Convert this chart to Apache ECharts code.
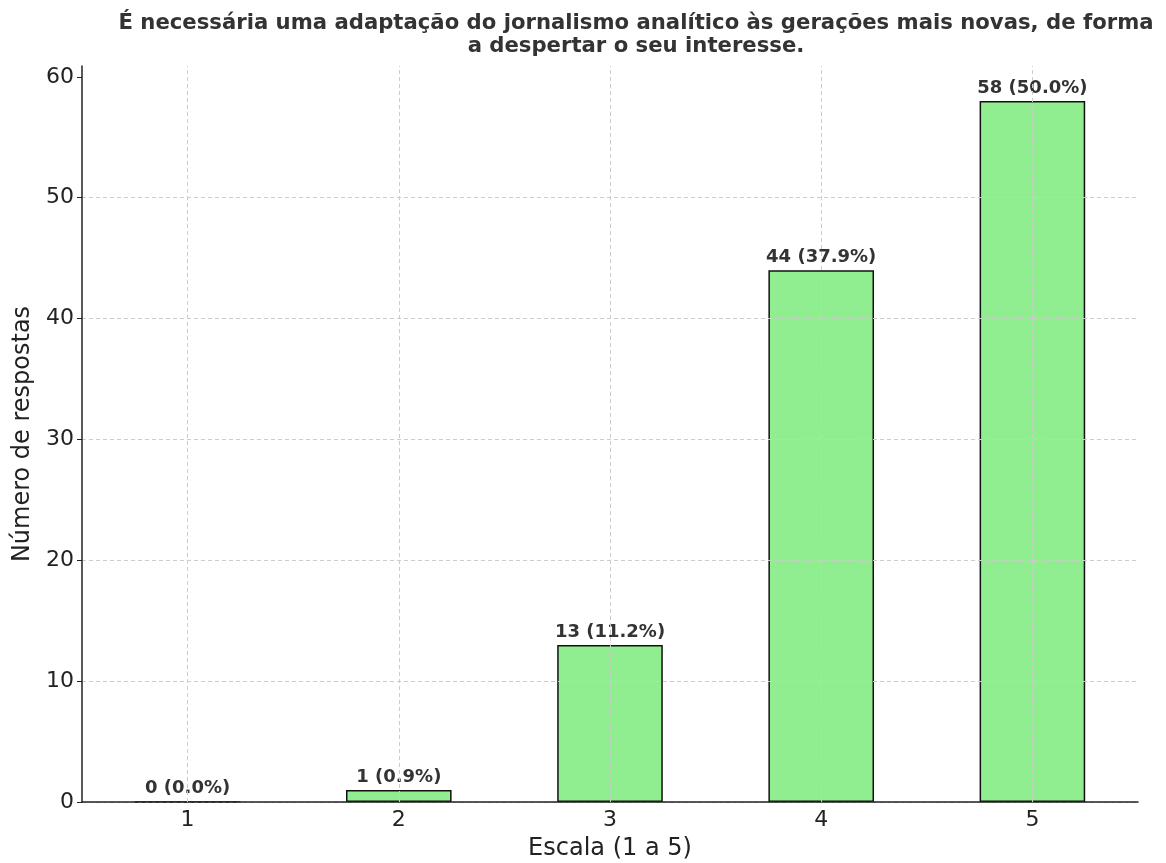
<!DOCTYPE html>
<html>
<head>
<meta charset="utf-8">
<script src="https://cdn.jsdelivr.net/npm/echarts@6/dist/echarts.min.js"></script>
<style>
  html, body { margin: 0; padding: 0; background: #fff; }
  #main { width: 1166px; height: 863px; }
</style>
</head>
<body>
<div id="main"></div>
<script>
var categories = ['1', '2', '3', '4', '5'];
var counts = [0, 1, 13, 44, 58];
var percents = [0.0, 0.9, 11.2, 37.9, 50.0];
var yTicks = [0, 10, 20, 30, 40, 50, 60];

var myChart = echarts.init(document.getElementById('main'));
var font = 'DejaVu Sans';
var option = {
    animation: false,
    title: {
        text: 'É necessária uma adaptação do jornalismo analítico às gerações mais novas, de forma\na despertar o seu interesse.',
        left: 631,
        top: 7,
        textAlign: 'center',
        textStyle: {
            fontFamily: font,
            fontWeight: 'bold',
            fontSize: 21.2,
            lineHeight: 23,
            color: '#333'
        }
    },
    grid: {
        left: 82,
        right: 28,
        top: 66,
        bottom: 61,
        outerBoundsMode: 'none'
    },
    xAxis: {
        type: 'category',
        data: categories,
        z: 3,
        name: 'Escala (1 a 5)',
        nameLocation: 'middle',
        nameGap: 35,
        nameTextStyle: { fontFamily: font, fontSize: 24, color: '#222' },
        axisLine: { lineStyle: { color: '#222', width: 1.5 } },
        axisTick: { alignWithLabel: true, length: 5, lineStyle: { color: '#222' } },
        axisLabel: { fontFamily: font, fontSize: 22, color: '#222', margin: 7 },
        splitLine: { show: false }
    },
    yAxis: {
        type: 'value',
        min: 0,
        max: 60.9,
        interval: 10,
        z: 3,
        name: 'Número de respostas',
        nameLocation: 'middle',
        nameGap: 46,
        nameTextStyle: { fontFamily: font, fontSize: 24, color: '#222' },
        axisLine: { show: true, lineStyle: { color: '#222', width: 1.5 } },
        axisTick: { show: true, length: 5, lineStyle: { color: '#222' }, customValues: yTicks },
        axisLabel: { fontFamily: font, fontSize: 22, color: '#222', margin: 8, customValues: yTicks },
        splitLine: { show: true, showMaxLine: false, lineStyle: { color: '#cccccc', type: [4, 3], width: 1 } }
    },
    series: [
        {
            type: 'bar',
            data: counts,
            barWidth: '50%',
            itemStyle: {
                color: '#90ee90',
                borderColor: '#111',
                borderWidth: 1.5
            },
            label: {
                show: true,
                position: 'top',
                distance: 4,
                fontFamily: font,
                fontWeight: 'bold',
                fontSize: 18,
                color: '#333',
                formatter: function (p) {
                    return counts[p.dataIndex] + ' (' + percents[p.dataIndex].toFixed(1) + '%)';
                }
            },
            markLine: {
                silent: true,
                symbol: 'none',
                label: { show: false },
                lineStyle: { color: '#cccccc', type: [4, 3], width: 1 },
                data: categories.map(function (c) { return { xAxis: c }; })
            }
        }
    ]
};
myChart.setOption(option);
</script>
</body>
</html>
